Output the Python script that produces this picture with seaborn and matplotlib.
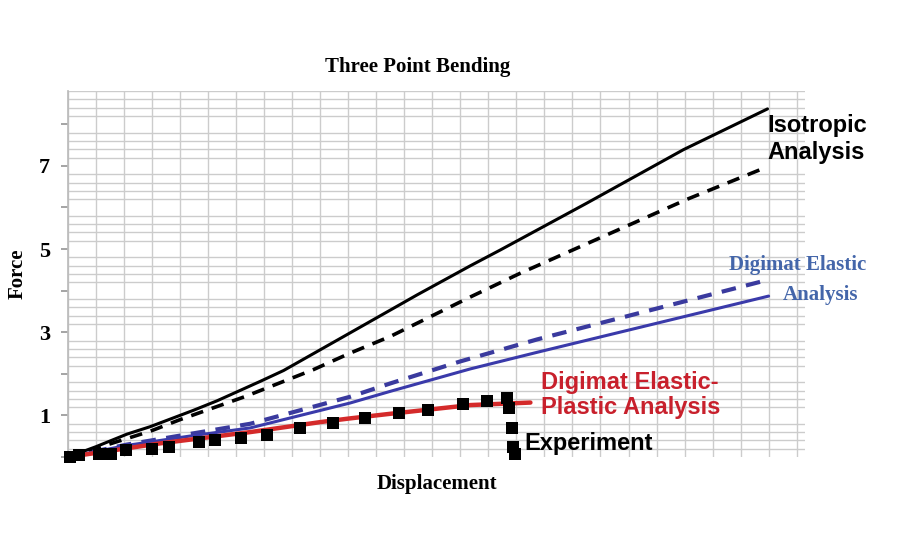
import numpy as np
import matplotlib.pyplot as plt
import seaborn as sns
import pandas as pd

# curves (x in grid units, y = force)
iso_x = [0, 1.0, 2.1, 2.93, 4.46, 5.31, 6.86, 7.69, 9.71, 12.46, 14.36, 15.43, 18.5, 21.96, 24.96]
iso_y = [0, 0.25, 0.55, 0.73, 1.12, 1.35, 1.82, 2.08, 2.85, 3.9, 4.6, 4.98, 6.1, 7.39, 8.37]

iso_d_x = [0, 2.93, 4.0, 6.3, 8.75, 10.07, 11.5, 14.36, 16.14, 22.1, 24.96]
iso_d_y = [0, 0.62, 0.9, 1.45, 2.1, 2.5, 2.9, 3.85, 4.42, 6.2, 6.98]

el_d_x = [0, 2.1, 4.3, 6.5, 10.07, 11.5, 14.0, 16.75, 24.8]
el_d_y = [0, 0.3, 0.55, 0.8, 1.45, 1.77, 2.3, 2.83, 4.23]

el_x = [0, 2.1, 4.3, 6.5, 10.07, 11.5, 14.36, 16.75, 25.0]
el_y = [0, 0.28, 0.5, 0.7, 1.3, 1.58, 2.12, 2.52, 3.87]

ep_x = [0, 3.3, 6.5, 9.0, 10.07, 11.5, 14.36, 16.5]
ep_y = [0, 0.33, 0.6, 0.84, 0.93, 1.04, 1.25, 1.31]

exp_x = [0.07, 0.39, 1.11, 1.54, 2.07, 3.0, 3.61, 4.68, 5.25, 6.18, 7.11, 8.29,
         9.46, 10.61, 11.82, 12.86, 14.11, 14.96, 15.68, 15.75, 15.86, 15.89, 15.96]
exp_y = [0.0, 0.04, 0.08, 0.08, 0.16, 0.2, 0.25, 0.35, 0.42, 0.47, 0.54, 0.69,
         0.81, 0.93, 1.05, 1.14, 1.27, 1.34, 1.41, 1.17, 0.69, 0.23, 0.08]

sns.set_theme(style="white")
plt.rcParams['font.family'] = ['Liberation Serif', 'DejaVu Serif']
plt.rcParams['text.color'] = 'black'
plt.rcParams['axes.labelcolor'] = 'black'

fig = plt.figure(figsize=(9, 5.5), dpi=100)
ax = fig.add_axes([0.0756, 0.169, 0.8189, 0.6655])

grid_col = '#cccccc'
ax.set_xlim(0, 26.3)
ax.set_ylim(0, 8.8)
ax.set_xticks(np.arange(0, 27, 1))
ax.set_xticklabels([])
ax.set_yticks(np.arange(0, 9, 1))
ax.set_yticklabels(['', '1', '', '3', '', '5', '', '7', ''])
ax.set_yticks(np.arange(0, 8.81, 0.2), minor=True)
ax.grid(True, which='major', axis='x', color=grid_col, lw=1.0)
ax.grid(True, which='minor', axis='y', color=grid_col, lw=1.0)
ax.tick_params(axis='y', which='major', length=5, color='#999999', direction='out',
               labelsize=16, labelcolor='black', pad=8, left=True)
ax.tick_params(axis='y', which='minor', length=0)
ax.tick_params(axis='x', length=0)
for lab in ax.get_yticklabels():
    lab.set_fontweight('bold')
for s in ['top', 'right', 'bottom']:
    ax.spines[s].set_visible(False)
ax.spines['left'].set_color('#bbbbbb')

def curve(x, y):
    return pd.DataFrame({'x': x, 'y': y})

sns.lineplot(data=curve(iso_x, iso_y), x='x', y='y', color='black', lw=2.2, ax=ax, sort=False)
sns.lineplot(data=curve(iso_d_x, iso_d_y), x='x', y='y', color='black', lw=2.6, ax=ax,
             sort=False, linestyle=(0, (3.5, 2.5)))
sns.lineplot(data=curve(el_d_x, el_d_y), x='x', y='y', color='#3a3a9e', lw=3.0, ax=ax,
             sort=False, linestyle=(0, (3.5, 2.5)))
sns.lineplot(data=curve(el_x, el_y), x='x', y='y', color='#3a3aaa', lw=2.2, ax=ax, sort=False)
sns.lineplot(data=curve(ep_x, ep_y), x='x', y='y', color='#d42a2a', lw=3.2, ax=ax, sort=False)
sns.scatterplot(data=curve(exp_x, exp_y), x='x', y='y', color='black', marker='s', s=64,
                linewidth=0, ax=ax, zorder=5, clip_on=False)

ax.set_xlabel('Displacement', fontsize=15, fontweight='bold', labelpad=9)
ax.set_ylabel('Force', fontsize=15, fontweight='bold', labelpad=8)
ax.set_title('Three Point Bending', fontsize=15, fontweight='bold', pad=14, x=0.475)

sans = ['Liberation Sans', 'DejaVu Sans']
ax.text(24.96, 8.25, 'Isotropic\nAnalysis', family=sans, fontsize=17, fontweight='bold',
        color='black', va='top', ha='left', linespacing=1.2)
ax.text(28.5, 4.61, 'Digimat Elastic', fontsize=15, fontweight='bold', color='#4466aa',
        va='center', ha='right')
ax.text(28.2, 3.89, 'Analysis', fontsize=15, fontweight='bold', color='#4466aa',
        va='center', ha='right')
ax.text(16.86, 1.5, 'Digimat Elastic-\nPlastic Analysis', family=sans, fontsize=17,
        fontweight='bold', color='#c8202c', va='center', ha='left', linespacing=1.1)
ax.text(16.29, 0.32, 'Experiment', family=sans, fontsize=17, fontweight='bold',
        color='black', va='center', ha='left')

fig.savefig('out.png', dpi=100)
